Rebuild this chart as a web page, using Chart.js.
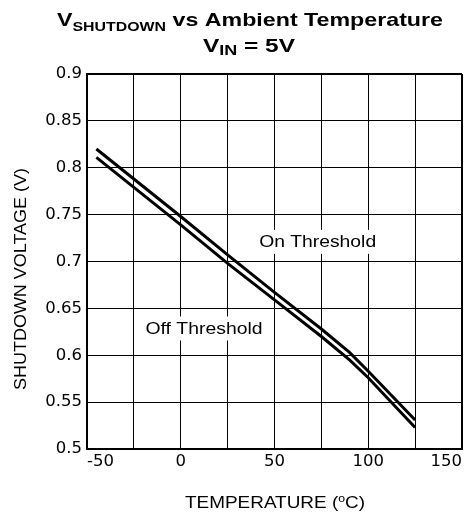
<!DOCTYPE html>
<html>
<head>
<meta charset="utf-8">
<script src="https://cdn.jsdelivr.net/npm/chart.js@4.4.0/dist/chart.umd.min.js"></script>
<style>
  html, body { margin: 0; padding: 0; background: #fff; }
  #wrap { width: 476px; height: 516px; }
</style>
</head>
<body>
<div id="wrap"><canvas id="chart" width="476" height="516"></canvas></div>
<script>
// values
const temps = [-45, 0, 25, 50, 75, 90, 100, 125];
const onThreshold = [0.820, 0.748, 0.707, 0.667, 0.628, 0.603, 0.583, 0.531];
const offThreshold = [0.811, 0.739, 0.698, 0.659, 0.620, 0.595, 0.576, 0.523];

const xGrid = [-50, -25, 0, 25, 50, 75, 100, 125, 150];
const xLabelled = [-50, 0, 50, 100, 150];
const xTickLabels = ['-50', '0', '50', '100', '150'];
const yTicks = [0.5, 0.55, 0.6, 0.65, 0.7, 0.75, 0.8, 0.85, 0.9];
const yTickLabels = ['0.5', '0.55', '0.6', '0.65', '0.7', '0.75', '0.8', '0.85', '0.9'];

const SANS = '"Liberation Sans", Arial, sans-serif';

function toPoints(xs, ys) {
  return xs.map((x, i) => ({ x: x, y: ys[i] }));
}

// draws a run of text pieces (main / sub / super), stretched to a given width
function drawRich(ctx, parts, cx, baseline, width) {
  let total = 0;
  parts.forEach(p => {
    ctx.font = p.font;
    p.w = ctx.measureText(p.t).width;
    total += p.w;
  });
  const sx = width / total;
  ctx.save();
  ctx.translate(cx - width / 2, baseline);
  ctx.scale(sx, 1);
  ctx.fillStyle = '#000';
  ctx.textBaseline = 'alphabetic';
  ctx.textAlign = 'left';
  let x = 0;
  parts.forEach(p => {
    ctx.font = p.font;
    ctx.fillText(p.t, x, p.dy || 0);
    x += p.w;
  });
  ctx.restore();
}

const textLayer = {
  id: 'textLayer',
  beforeDatasetsDraw(chart) {
    const ctx = chart.ctx;
    const xs = chart.scales.x, ys = chart.scales.y;
    // curve labels sit on white boxes that hide the grid
    const labels = [
      { t: 'On Threshold', x: 73, y: 0.722, w: 117 },
      { t: 'Off Threshold', x: 12.4, y: 0.6296, w: 117 }
    ];
    labels.forEach(l => {
      const cx = xs.getPixelForValue(l.x);
      const cy = ys.getPixelForValue(l.y);
      const base = cy + 6;
      ctx.save();
      ctx.fillStyle = '#fff';
      ctx.fillRect(cx - l.w / 2 - 3, base - 17, l.w + 6, 24);
      ctx.restore();
      drawRich(ctx, [{ t: l.t, font: '16px ' + SANS }], cx, base, l.w);
    });
  },
  afterDraw(chart) {
    const ctx = chart.ctx;
    const B = 'bold 19px ' + SANS;
    const Bs = 'bold 13px ' + SANS;
    drawRich(ctx, [
      { t: 'V', font: B },
      { t: 'SHUTDOWN', font: Bs, dy: 4.7 },
      { t: ' vs Ambient Temperature', font: B }
    ], 250, 26, 386);
    drawRich(ctx, [
      { t: 'V', font: B },
      { t: 'IN', font: 'bold 14px ' + SANS, dy: 3.3 },
      { t: ' = 5V', font: B }
    ], 249, 51.7, 92);

    // x axis title with degree-style superscript
    drawRich(ctx, [
      { t: 'TEMPERATURE (', font: '17px ' + SANS },
      { t: 'o', font: '11px ' + SANS, dy: -6 },
      { t: 'C)', font: '17px ' + SANS }
    ], 275, 508, 180);

    // y axis title, rotated
    ctx.save();
    ctx.translate(26, 279);
    ctx.rotate(-Math.PI / 2);
    drawRich(ctx, [{ t: 'SHUTDOWN VOLTAGE (V)', font: '17px ' + SANS }], 0, 0, 222);
    ctx.restore();
  }
};

const data = {
  datasets: [
    {
      label: 'On Threshold',
      data: toPoints(temps, onThreshold),
      borderColor: '#000',
      borderWidth: 3,
      pointRadius: 0,
      tension: 0,
      fill: false
    },
    {
      label: 'Off Threshold',
      data: toPoints(temps, offThreshold),
      borderColor: '#000',
      borderWidth: 3,
      pointRadius: 0,
      tension: 0,
      fill: false
    }
  ]
};

const config = {
  type: 'line',
  data: data,
  options: {
    responsive: false,
    animation: false,
    devicePixelRatio: 1,
    layout: { padding: { top: 74, right: 14, left: 0, bottom: 0 } },
    plugins: {
      legend: { display: false },
      title: { display: false },
      tooltip: { enabled: false }
    },
    scales: {
      x: {
        type: 'linear',
        min: -50,
        max: 150,
        afterBuildTicks: s => { s.ticks = xGrid.map(v => ({ value: v })); },
        afterFit: s => { s.height = 67; },
        grid: {
          color: '#000',
          lineWidth: c => (c.tick && c.tick.value === 150 ? 2 : 1),
          drawTicks: false
        },
        border: { color: '#000', width: 2 },
        ticks: {
          autoSkip: false,
          maxRotation: 0,
          align: 'inner',
          padding: 3,
          color: '#000',
          font: { family: '"DejaVu Sans"', size: 16.5 },
          callback: v => {
            const i = xLabelled.indexOf(v);
            return i >= 0 ? xTickLabels[i] : '';
          }
        }
      },
      y: {
        type: 'linear',
        min: 0.5,
        max: 0.9,
        afterBuildTicks: s => { s.ticks = yTicks.map(v => ({ value: v })); },
        afterFit: s => { s.width = 87; },
        grid: {
          color: '#000',
          lineWidth: c => (c.tick && c.tick.value === 0.9 ? 2 : 1),
          drawTicks: false
        },
        border: { color: '#000', width: 2 },
        ticks: {
          autoSkip: false,
          padding: 5,
          color: '#000',
          font: { family: '"DejaVu Sans"', size: 16.5 },
          callback: (v, i) => yTickLabels[i]
        }
      }
    }
  },
  plugins: [textLayer]
};

new Chart(document.getElementById('chart').getContext('2d'), config);
</script>
</body>
</html>
